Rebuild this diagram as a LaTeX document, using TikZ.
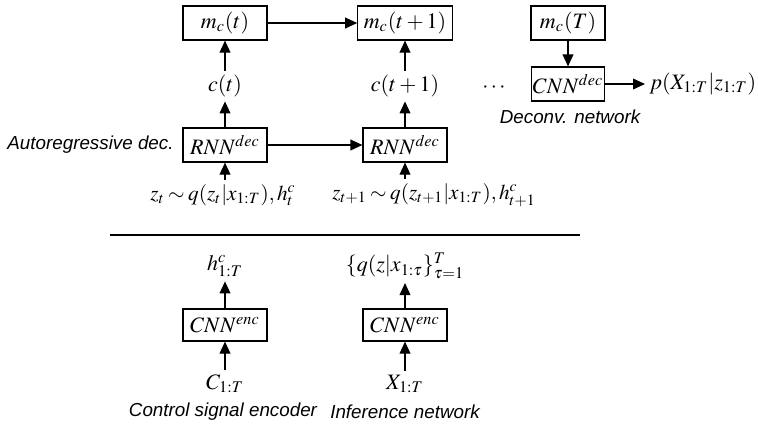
\documentclass[tikz,border=0pt]{standalone}
\usepackage{mathptmx}
\usepackage{fontspec}
\setmainfont{Liberation Serif}
\newfontfamily\labfont{Liberation Sans}
\usetikzlibrary{arrows.meta}
\newcommand{\tightrel}{\thickmuskip=3mu\relax}
\tikzset{
  mathtxt/.style={inner sep=2pt, font=\fontsize{11}{13}\selectfont},
  ztxt/.style={inner sep=2pt, font=\fontsize{10.6}{13}\selectfont},
  box/.style={draw, line width=0.6pt, minimum height=17pt, minimum width=42pt, inner sep=3pt, font=\fontsize{11}{13}\selectfont},
  lab/.style={inner sep=1pt, font=\labfont\itshape\fontsize{9.4}{11}\selectfont},
  arr/.style={-{Triangle[length=6pt,width=5.4pt]}, line width=0.6pt},
}
\begin{document}
\begin{tikzpicture}[x=0.5pt,y=-0.5pt]
\useasboundingbox (0,0) rectangle (758,425);
% upper part
\node[box] (m1) at (225,23) {$m_c(t)$};
\node[box] (m2) at (405,23) {$m_c(t+1)$};
\node[box, minimum width=37pt, inner xsep=1pt] (m3) at (568,23) {$m_c(T)$};
\node[mathtxt] (c1) at (225,86) {$c(t)$};
\node[mathtxt] (c2) at (405,86) {$c(t+1)$};
\node[mathtxt] (dots) at (494,88) {$\cdots$};
\node[box, minimum width=35pt, inner xsep=0.5pt] (cd) at (568,84) {$CNN^{dec}$};
\node[mathtxt, anchor=west] (p) at (645,84) {$p(X_{1:T}|z_{1:T})$};
\node[lab] (dl) at (570,117) {Deconv. network};
\node[box] (r1) at (225,145) {$RNN^{dec}$};
\node[box] (r2) at (405,145) {$RNN^{dec}$};
\node[lab, anchor=east] (al) at (176,145) {Autoregressive dec.};
\node[ztxt] (z1) at (223,195) {$\tightrel z_t \sim q(z_t|x_{1:T}), h^c_t$};
\node[ztxt] (z2) at (434,195) {$\tightrel z_{t+1} \sim q(z_{t+1}|x_{1:T}), h^c_{t+1}$};
% separator
\coordinate (l1) at (110,235);
\coordinate (l2) at (580,235);
\draw[line width=0.6pt] (l1) -- (l2);
% lower part
\node[mathtxt] (h) at (225,266) {$h^c_{1:T}$};
\node[mathtxt] (q) at (405,266) {$\{q(z|x_{1:\tau}\}^T_{\tau=1}$};
\node[box, minimum height=16pt] (e1) at (225,325) {$CNN^{enc}$};
\node[box, minimum height=16pt] (e2) at (405,325) {$CNN^{enc}$};
\node[mathtxt] (C) at (225,384) {$C_{1:T}$};
\node[mathtxt] (X) at (405,384) {$X_{1:T}$};
\node[lab] (cl) at (223,412) {Control signal encoder};
\node[lab] (il) at (405,412) {Inference network};
% arrows
\draw[arr] (m1) -- (m2);
\draw[arr] (c1) -- (m1);
\draw[arr] (c2) -- (m2);
\draw[arr] (r1) -- (c1);
\draw[arr] (r2) -- (c2);
\draw[arr] (r1) -- (r2);
\draw[arr] (z1.north -| r1) -- (r1.south);
\draw[arr] (z2.north -| r2) -- (r2.south);
\draw[arr] (m3) -- (cd);
\draw[arr] (cd) -- (p);
\draw[arr] (e1) -- (h);
\draw[arr] (C) -- (e1);
\draw[arr] (e2) -- (q);
\draw[arr] (X) -- (e2);
\end{tikzpicture}
\end{document}
